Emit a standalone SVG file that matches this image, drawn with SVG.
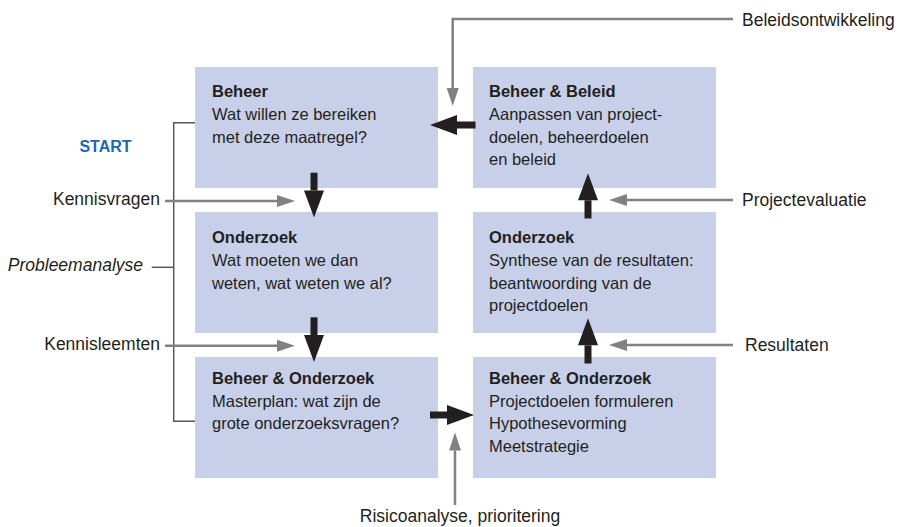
<svg xmlns="http://www.w3.org/2000/svg" width="900" height="527" viewBox="0 0 900 527">
<style>
.box{fill:#c8d0e9}
.t{font-family:"Liberation Sans",Arial,sans-serif;font-size:16.5px;fill:#231f20}
.b{font-weight:bold}
.lbl{font-family:"Liberation Sans",Arial,sans-serif;font-size:17.5px;fill:#231f20}
.g{fill:none;stroke:#808184;stroke-width:2.5;marker-end:url(#gh)}
.k{fill:none;stroke:#231f20;stroke-width:7;marker-end:url(#kh)}
.br{fill:none;stroke:#58595b;stroke-width:1.5}
</style>
<defs>
<marker id="gh" markerUnits="userSpaceOnUse" markerWidth="18" markerHeight="12" refX="0" refY="6" orient="auto" overflow="visible"><path d="M0,0 L18,6 L0,12 z" fill="#808184"/></marker>
<marker id="kh" markerUnits="userSpaceOnUse" markerWidth="27" markerHeight="20" refX="0" refY="10" orient="auto" overflow="visible"><path d="M0,0 L27,10 L0,20 z" fill="#231f20"/></marker>
</defs>
<rect width="900" height="527" fill="#ffffff"/>

<g id="bracket">
<path class="br" d="M195,122.7 H173.7 V421.3 H195"/>
<path class="br" d="M151.7,267.3 H173.7"/>
</g>

<g id="n1">
<rect class="box" x="195" y="67" width="243" height="121"/>
<text class="t b" x="212" y="97.3">Beheer</text>
<text class="t" x="212" y="120">Wat willen ze bereiken</text>
<text class="t" x="212" y="142.5">met deze maatregel?</text>
</g>
<g id="n2">
<rect class="box" x="195" y="212" width="243" height="121"/>
<text class="t b" x="212" y="243.3">Onderzoek</text>
<text class="t" x="212" y="266">Wat moeten we dan</text>
<text class="t" x="212" y="288.5">weten, wat weten we al?</text>
</g>
<g id="n3">
<rect class="box" x="195" y="357" width="243" height="121"/>
<text class="t b" x="212" y="384">Beheer &amp; Onderzoek</text>
<text class="t" x="212" y="406.7">Masterplan: wat zijn de</text>
<text class="t" x="212" y="429.3">grote onderzoeksvragen?</text>
</g>
<g id="n4">
<rect class="box" x="473" y="357" width="243" height="121"/>
<text class="t b" x="489" y="384">Beheer &amp; Onderzoek</text>
<text class="t" x="489" y="406.7">Projectdoelen formuleren</text>
<text class="t" x="489" y="429.3">Hypothesevorming</text>
<text class="t" x="489" y="452">Meetstrategie</text>
</g>
<g id="n5">
<rect class="box" x="473" y="212" width="243" height="121"/>
<text class="t b" x="489" y="243.3">Onderzoek</text>
<text class="t" x="489" y="266">Synthese van de resultaten:</text>
<text class="t" x="489" y="288.5">beantwoording van de</text>
<text class="t" x="489" y="311">projectdoelen</text>
</g>
<g id="n6">
<rect class="box" x="473" y="67" width="243" height="121"/>
<text class="t b" x="489" y="97.3">Beheer &amp; Beleid</text>
<text class="t" x="489" y="120">Aanpassen van project-</text>
<text class="t" x="489" y="142.5">doelen, beheerdoelen</text>
<text class="t" x="489" y="165">en beleid</text>
</g>

<g id="connectors">
<path class="k" d="M314,172.7 V190.5"/>
<path class="k" d="M314,317.3 V335"/>
<path class="k" d="M430,415 H447"/>
<path class="k" d="M588,363.5 V345.3"/>
<path class="k" d="M588,218.5 V200.3"/>
<path class="k" d="M475.5,125 H457"/>
<path class="g" d="M733,19 H452.7 V88"/>
<path class="g" d="M733,200 H627"/>
<path class="g" d="M733,345 H627"/>
<path class="g" d="M165,201 H277"/>
<path class="g" d="M165,345.7 H277"/>
<path class="g" d="M455,505 V450.5"/>
</g>

<g id="labels">
<text class="lbl" x="105.5" y="151.7" text-anchor="middle" style="font-weight:bold;font-size:16px;fill:#1f66b2">START</text>
<text class="lbl" x="160" y="205" text-anchor="end">Kennisvragen</text>
<text class="lbl" x="160" y="350" text-anchor="end">Kennisleemten</text>
<text class="lbl" x="143" y="271" text-anchor="end" font-style="italic">Probleemanalyse</text>
<text class="lbl" x="742" y="25.5">Beleidsontwikkeling</text>
<text class="lbl" x="742" y="205.5">Projectevaluatie</text>
<text class="lbl" x="745" y="351">Resultaten</text>
<text class="lbl" x="460" y="521.5" text-anchor="middle">Risicoanalyse, prioritering</text>
</g>
</svg>
